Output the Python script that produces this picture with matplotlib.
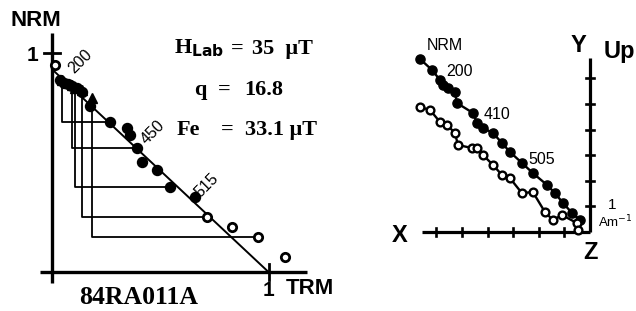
import matplotlib
matplotlib.use("Agg")
from matplotlib import pyplot as plt

SANS = "Liberation Sans"
SERIF = "Liberation Serif"

# --- Arai plot (TRM gained vs NRM remaining, normalised) ---
nrm_open_trm = [0.014, 0.716, 0.831, 0.952, 1.076]
nrm_open_nrm = [0.945, 0.251, 0.205, 0.160, 0.068]
filled_trm = [0.037, 0.055, 0.074, 0.092, 0.115, 0.139, 0.176, 0.268,
              0.346, 0.360, 0.393, 0.416, 0.485, 0.545, 0.660]
filled_nrm = [0.877, 0.863, 0.858, 0.849, 0.840, 0.822, 0.758, 0.685,
              0.658, 0.626, 0.566, 0.502, 0.466, 0.388, 0.342]
# pTRM checks: triangle position, then the level/point the check refers to
check_trm = [0.046, 0.092, 0.106, 0.139, 0.185]
check_nrm = [0.877, 0.854, 0.840, 0.831, 0.795]
check_level = [0.685, 0.566, 0.388, 0.251, 0.160]
check_to_trm = [0.268, 0.393, 0.545, 0.716, 0.952]
fit_trm = [0.010, 1.000]
fit_nrm = [0.917, 0.000]
arai_labels = ["200", "450", "515"]
arai_label_pos = [(0.13, 0.96), (0.465, 0.64), (0.715, 0.395)]

# --- Zijderveld plot (A/m) ---
horiz_x = [6.64, 6.17, 5.86, 5.74, 5.55, 5.27, 5.20, 4.57, 4.41, 4.18,
           3.79, 3.44, 3.13, 2.66, 2.23, 1.68, 1.37, 1.05, 0.70, 0.39]
horiz_y = [6.76, 6.33, 5.94, 5.74, 5.63, 5.47, 5.04, 4.65, 4.26, 4.06,
           3.87, 3.48, 3.13, 2.70, 2.30, 1.84, 1.52, 1.13, 0.74, 0.47]
vert_x = [6.64, 6.25, 5.86, 5.59, 5.27, 5.16, 4.61, 4.41, 4.18, 3.79,
          3.44, 3.13, 2.66, 2.23, 1.76, 1.45, 1.09, 0.51, 0.47]
vert_up = [4.88, 4.77, 4.30, 4.18, 3.87, 3.40, 3.28, 3.28, 3.01, 2.62,
           2.23, 2.11, 1.52, 1.56, 0.78, 0.47, 0.66, 0.35, 0.08]
zij_ticks = [1, 2, 3, 4, 5, 6]
zij_labels = ["NRM", "200", "410", "505"]
zij_label_pos = [(5.66, 7.30), (5.10, 6.25), (3.62, 4.60), (1.87, 2.85)]

fig = plt.figure(figsize=(6.36, 3.11), dpi=100)

# ---------------- left panel ----------------
ax = fig.add_axes([0.0477, 0.055, 0.4596, 0.88])
ax.set_xlim(-0.1, 1.25)
ax.set_ylim(-0.1, 1.15)
ax.axis("off")

ax.plot([-0.055, 1.18], [0, 0], color="k", lw=2.4, solid_capstyle="butt")
ax.plot([0, 0], [-0.05, 1.09], color="k", lw=2.4, solid_capstyle="butt")
ax.plot([-0.035, 0.035], [1, 1], color="k", lw=2.0)
ax.plot([1, 1], [-0.035, 0.035], color="k", lw=2.0)

ax.plot(fit_trm, fit_nrm, color="k", lw=1.4)
for tx, ty, lev, px in zip(check_trm, check_nrm, check_level, check_to_trm):
    ax.plot([tx, tx, px], [ty, lev, lev], color="k", lw=1.3)

ax.plot(filled_trm, filled_nrm, "o", color="k", ms=7.2, ls="none")
ax.plot(check_trm, check_nrm, "^", color="k", ms=7, ls="none")
ax.plot(nrm_open_trm, nrm_open_nrm, "o", mfc="white", mec="k", mew=2.0,
        ms=6, ls="none")

for lab, (x, y) in zip(arai_labels, arai_label_pos):
    ax.text(x, y, lab, rotation=45, ha="center", va="center",
            family=SANS, fontsize=11.5)

ax.text(-0.075, 1.15, "NRM", family=SANS, weight="bold", fontsize=16,
        ha="center", va="center")
ax.text(-0.09, 0.99, "1", family=SANS, weight="bold", fontsize=15,
        ha="center", va="center")
ax.text(1.0, -0.085, "1", family=SANS, weight="bold", fontsize=15,
        ha="center", va="center")
ax.text(1.19, -0.075, "TRM", family=SANS, weight="bold", fontsize=16,
        ha="center", va="center")
ax.text(0.40, -0.115, "84RA011A", family=SERIF, weight="bold", fontsize=18.5,
        ha="center", va="center")

# name, value, y, name x, "=" x, value x
stat_rows = [("H$_{\\mathbf{Lab}}$", "35  \u03bcT", 1.02, 0.68, 0.855, 0.925),
             ("q", "16.8", 0.83, 0.685, 0.795, 0.89),
             ("Fe", "33.1 \u03bcT", 0.65, 0.63, 0.81, 0.89)]
for name, val, y, xn, xe, xv in stat_rows:
    ax.text(xn, y, name, family=SERIF, weight="bold", fontsize=16,
            ha="center", va="center")
    ax.text(xe, y, "=", family=SERIF, weight="bold", fontsize=16,
            ha="center", va="center")
    ax.text(xv, y, val, family=SERIF, weight="bold", fontsize=16,
            ha="left", va="center")

# ---------------- right panel ----------------
az = fig.add_axes([0.5975, 0.0354, 0.4025, 0.9003])
az.set_xlim(8.2, -1.797)
az.set_ylim(-2.656, 8.281)
az.axis("off")

az.plot([6.56, 0], [0, 0], color="k", lw=2.3, solid_capstyle="butt")
az.plot([0, 0], [0, 6.8], color="k", lw=2.3, solid_capstyle="butt")
for t in zij_ticks:
    az.plot([t, t], [-0.17, 0.17], color="k", lw=1.9)
    az.plot([-0.17, 0.17], [t, t], color="k", lw=1.9)

az.plot(horiz_x, horiz_y, "-o", color="k", lw=1.7, ms=6.6)
az.plot(vert_x, vert_up, "-o", color="k", lw=1.7, ms=5.6, mfc="white",
        mec="k", mew=1.7)

for lab, (x, y) in zip(zij_labels, zij_label_pos):
    az.text(x, y, lab, family=SANS, fontsize=11.5, ha="center", va="center")

az.text(7.45, -0.15, "X", family=SANS, weight="bold", fontsize=17,
        ha="center", va="center")
az.text(0.45, 7.3, "Y", family=SANS, weight="bold", fontsize=17,
        ha="center", va="center")
az.text(-1.15, 7.05, "Up", family=SANS, weight="bold", fontsize=17,
        ha="center", va="center")
az.text(0.0, -0.8, "Z", family=SANS, weight="bold", fontsize=17,
        ha="center", va="center")
az.text(-0.85, 1.05, "1", family=SANS, fontsize=11, ha="center", va="center")
az.text(-0.3, 0.4, "Am$^{-1}$", family=SANS, fontsize=9.5, ha="left",
        va="center")

fig.savefig("out.png", dpi=100)
